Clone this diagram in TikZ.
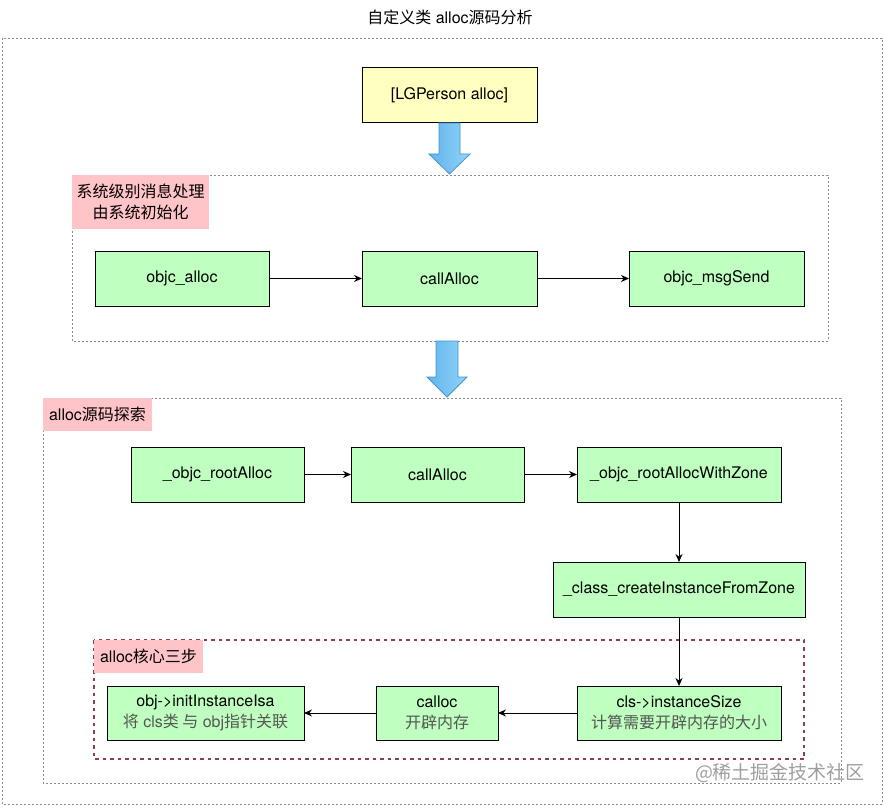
\documentclass[tikz,border=0pt]{standalone}
\usepackage{fontspec}
\setmainfont{TeX Gyre Heros}
\newfontfamily\cjk{Noto Sans CJK SC}
\usetikzlibrary{arrows.meta}
\definecolor{boxgreen}{HTML}{BFFFBF}
\definecolor{boxyellow}{HTML}{FFFFC0}
\definecolor{labelpink}{HTML}{FFC4C8}
\definecolor{subgray}{HTML}{555555}
\definecolor{framegray}{HTML}{8A8A8A}
\definecolor{darkred}{HTML}{8B3F4F}
\definecolor{arrowlight}{HTML}{90D4F9}
\definecolor{arrowdark}{HTML}{62B3EC}
\definecolor{arrowline}{HTML}{4593CF}
\begin{document}
\begin{tikzpicture}[x=1pt,y=-1pt,
  every node/.style={font=\fontsize{16}{21}\selectfont, inner sep=0pt, outer sep=0pt},
  fbox/.style={draw=black, line width=1pt, fill=boxgreen, align=center, minimum height=55pt},
  ybox/.style={draw=black, line width=1pt, fill=boxyellow, align=center},
  lbox/.style={fill=labelpink, align=center, anchor=north west},
  framedot/.style={draw=framegray, line width=0.8pt, dash pattern=on 2pt off 2pt},
  framered/.style={draw=darkred, line width=1.6pt, dash pattern=on 3.5pt off 4pt},
  conn/.style={draw=black, line width=1pt, -{Stealth[length=8pt,width=7pt]}},
  bluearrow/.style={draw=arrowline, line width=0.8pt, left color=arrowdark, right color=arrowlight, line join=miter},
  wmark/.style={text=black!38, font=\cjk\fontsize{19}{19}\selectfont}
]
\useasboundingbox (0,0) rectangle (883,805);

% title
\node (title) at (450,17) {{\cjk 自定义类} alloc{\cjk 源码分析}};

% frames
\draw[framedot] (2,38) rectangle (882,804);
\draw[framedot] (72,175) rectangle (828,341);
\draw[framedot] (43,398) rectangle (841,783);
\draw[framered] (94,640) rectangle (804,759);

% labels
\node[lbox, minimum width=137pt, minimum height=54pt] (lab1) at (72,175) {\cjk 系统级别消息处理\\\cjk 由系统初始化};
\node[lbox, minimum width=109pt, minimum height=33pt] (lab2) at (43,398) {alloc{\cjk 源码探索}};
\node[lbox, minimum width=109pt, minimum height=33pt] (lab3) at (94,640) {alloc{\cjk 核心三步}};

% top box
\node[ybox, minimum width=175pt, minimum height=55pt] (yel) at (449.5,95.5) {[LGPerson alloc]};

% blue arrows
\path[bluearrow, shift={(yel.south)}] (-10.5,0) -- (10.5,0) -- (10.5,31) -- (20.5,31) -- (0,51) -- (-20.5,31) -- (-10.5,31) -- cycle;
\coordinate (c1b) at (447,341);
\path[bluearrow, shift={(c1b)}] (-11,0) -- (11,0) -- (11,36) -- (20,36) -- (0,56) -- (-20,36) -- (-11,36) -- cycle;

% row 1
\node[fbox, minimum width=174pt] (oa) at (182,278.5) {objc\_alloc};
\node[fbox, minimum width=175pt] (ca1) at (449.5,278.5) {callAlloc};
\node[fbox, minimum width=175pt] (ms) at (716.5,278.5) {objc\_msgSend};
\draw[conn] (oa) -- (ca1);
\draw[conn] (ca1) -- (ms);

% row 2
\node[fbox, minimum width=173pt] (ra) at (217.5,474.5) {\_objc\_rootAlloc};
\node[fbox, minimum width=173pt] (ca2) at (437.5,474.5) {callAlloc};
\node[fbox, minimum width=204pt] (raz) at (679,474.5) {\_objc\_rootAllocWithZone};
\node[fbox, minimum width=252pt] (cci) at (679,589.5) {\_class\_createInstanceFromZone};
\draw[conn] (ra) -- (ca2);
\draw[conn] (ca2) -- (raz);
\draw[conn] (raz) -- (cci);

% row 3
\node[fbox, minimum width=204pt, minimum height=54pt] (is) at (679,713) {cls->instanceSize\\\textcolor{subgray}{\cjk 计算需要开辟内存的大小}};
\node[fbox, minimum width=122pt, minimum height=54pt] (cl) at (437,713) {calloc\\\textcolor{subgray}{\cjk 开辟内存}};
\node[fbox, minimum width=197pt, minimum height=54pt] (ii) at (205.5,713) {obj->initInstanceIsa\\\textcolor{subgray}{{\cjk 将} cls{\cjk 类 与} obj{\cjk 指针关联}}};
\draw[conn] (cci) -- (is);
\draw[conn] (is) -- (cl);
\draw[conn] (cl) -- (ii);

% watermark
\node[wmark] (wm) at (780,773) {@稀土掘金技术社区};
\end{tikzpicture}
\end{document}
